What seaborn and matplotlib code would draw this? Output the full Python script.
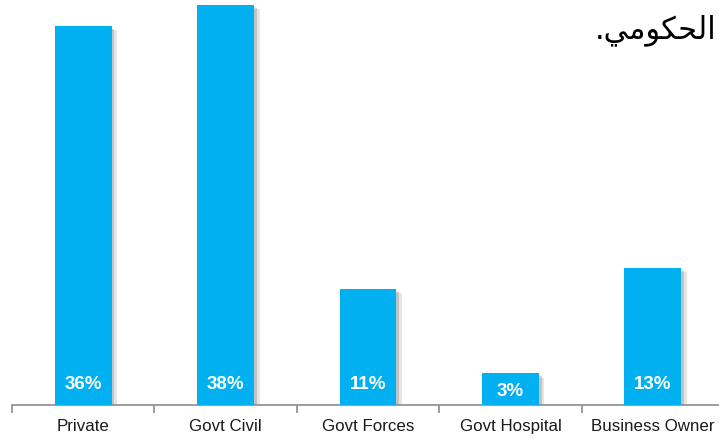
import matplotlib
matplotlib.use("Agg")
import matplotlib.pyplot as plt
import matplotlib.patheffects as pe
import seaborn as sns
import numpy as np

categories = ["Private", "Govt Civil", "Govt Forces", "Govt Hospital", "Business Owner"]
values = [36, 38, 11, 3, 13]
value_labels = ["36%", "38%", "11%", "3%", "13%"]
# Arabic word "الحكومي." in presentation forms, visual (left-to-right) order
arabic_title = ".\uFEF2\uFEE3\uFEEE\uFEDC\uFEA4\uFEDF\uFE8D"

sns.set_theme(style="white")
plt.rcParams['font.family'] = ['Liberation Sans', 'DejaVu Sans']

fig = plt.figure(figsize=(7.19, 4.38), dpi=100)
ax = fig.add_axes([12/719, 33/438, 712/719, 405/438])

sns.barplot(x=categories, y=values, color="#00B0F0", saturation=1, width=0.4, ax=ax, zorder=3)

for p in ax.patches:
    p.set_path_effects([pe.SimplePatchShadow(offset=(2, -2), shadow_rgbFace="#7a7a7a", alpha=0.35),
                        pe.SimplePatchShadow(offset=(4, -3), shadow_rgbFace="#9a9a9a", alpha=0.25),
                        pe.Normal()])
    p.set_edgecolor("none")

for i, (v, lab) in enumerate(zip(values, value_labels)):
    y = min(1.55, 0.27 * v)
    ax.text(i, y, lab, ha="center", va="baseline", color="white", fontsize=13.5,
            fontweight="bold", zorder=5)

ax.set_xlim(-0.5, len(categories) - 0.5)
ax.set_ylim(0, 38.5)
ax.set_xlabel("")
ax.set_ylabel("")
ax.set_yticks([])
for s in ["top", "right", "left"]:
    ax.spines[s].set_visible(False)
ax.spines["bottom"].set_color("#8c8c8c")
ax.spines["bottom"].set_linewidth(1.2)

ax.set_xticks(np.arange(len(categories)))
ax.set_xticklabels(categories, fontsize=12.2, color="#1a1a1a")
for t in ax.get_xticklabels():
    t.set_verticalalignment("baseline")
ax.set_xticks(np.arange(len(categories) + 1) - 0.5, minor=True)
ax.tick_params(axis="x", which="major", length=0, pad=18.5)
ax.tick_params(axis="x", which="minor", length=6, width=1.2, color="#8c8c8c", direction="out", bottom=True)

fig.text(716/719, 1 - 30/438, arabic_title, ha="right", va="center", fontsize=22,
         family=["DejaVu Sans"], color="black")

fig.savefig("out.png", dpi=100)
